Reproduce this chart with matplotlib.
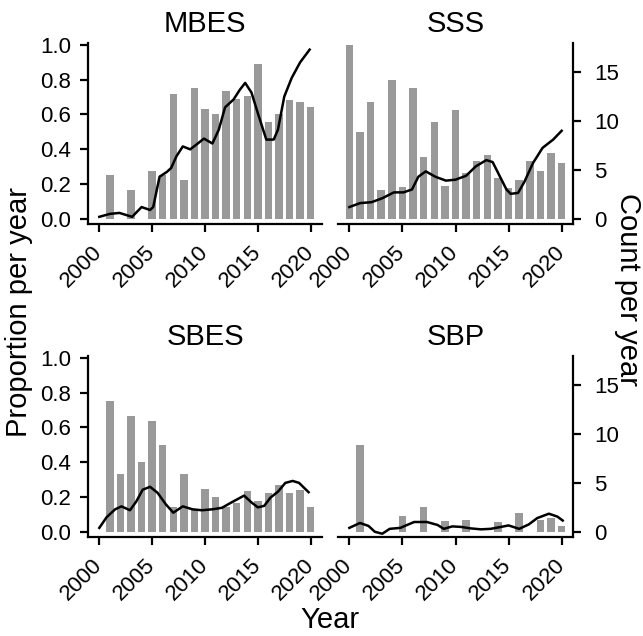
import matplotlib
matplotlib.use("Agg")
import matplotlib.pyplot as plt

plt.rcParams['font.family'] = ['Liberation Sans', 'DejaVu Sans']

# bars: proportion per year (left axis)
bar_years = list(range(2000, 2021))
mbes_prop = [0, 0.25, 0, 0.165, 0, 0.275, 0.25, 0.717, 0.223, 0.754, 0.63,
             0.602, 0.736, 0.69, 0.708, 0.888, 0.556, 0.602, 0.683, 0.67, 0.644]
sss_prop = [1.0, 0.50, 0.67, 0.165, 0.80, 0.18, 0.754, 0.357, 0.556, 0.188, 0.625,
            0.265, 0.334, 0.367, 0.236, 0.175, 0.223, 0.334, 0.275, 0.38, 0.322]
sbes_prop = [0, 0.752, 0.334, 0.668, 0.40, 0.637, 0.50, 0.143, 0.334, 0.128, 0.248,
             0.20, 0.14, 0.166, 0.236, 0.175, 0.223, 0.27, 0.225, 0.238, 0.143]
sbp_prop = [0, 0.50, 0, 0, 0, 0.089, 0, 0.141, 0, 0.061, 0,
            0.065, 0, 0, 0.057, 0, 0.109, 0, 0.07, 0.08, 0.036]

# smoothed line: count per year (right axis)
mbes_line_x = [2000.0, 2001.0, 2001.9, 2002.8, 2003.1, 2004.0, 2004.8, 2005.1, 2005.7,
               2006.4, 2006.8, 2007.3, 2007.9, 2008.6, 2009.2, 2009.9, 2010.7, 2011.3,
               2011.9, 2012.7, 2013.3, 2013.8, 2014.4, 2015.0, 2015.8, 2016.5, 2016.9,
               2017.5, 2018.2, 2019.0, 2019.9]
mbes_line_y = [0.2, 0.5, 0.6, 0.3, 0.2, 1.2, 0.9, 1.2, 4.3, 4.8, 5.2, 6.4, 7.4, 7.1, 7.6,
               8.2, 7.7, 9.1, 11.4, 12.2, 13.2, 13.9, 12.9, 10.8, 8.1, 8.1, 9.1, 12.5,
               14.4, 16.0, 17.3]
sss_line_x = [2000.0, 2001.0, 2002.1, 2003.1, 2004.2, 2005.1, 2005.9, 2006.5, 2007.2,
              2008.1, 2009.1, 2010.0, 2011.0, 2011.9, 2012.9, 2013.5, 2014.1, 2014.8,
              2015.2, 2015.9, 2016.5, 2017.3, 2018.2, 2019.2, 2020.0]
sss_line_y = [1.2, 1.6, 1.7, 2.1, 2.7, 2.7, 3.0, 4.3, 4.85, 4.3, 3.9, 4.0, 4.4, 5.35,
              6.0, 5.8, 4.5, 3.0, 2.55, 2.65, 3.8, 5.7, 7.25, 8.1, 9.0]
sbes_line_x = [2000.0, 2000.7, 2001.5, 2002.1, 2002.9, 2003.5, 2004.1, 2004.8, 2005.5,
               2006.3, 2007.0, 2007.9, 2008.8, 2009.7, 2010.7, 2011.6, 2012.5, 2013.7,
               2014.4, 2015.0, 2015.6, 2016.2, 2016.9, 2017.6, 2018.3, 2018.9, 2019.8]
sbes_line_y = [0.4, 1.5, 2.3, 2.6, 2.2, 3.1, 4.3, 4.6, 4.0, 2.8, 1.95, 2.6, 2.3, 2.2,
               2.3, 2.45, 3.0, 3.7, 3.0, 2.5, 2.65, 3.5, 4.1, 5.0, 5.2, 5.0, 4.05]
sbp_line_x = [2000.0, 2001.0, 2001.8, 2002.4, 2003.1, 2003.8, 2004.8, 2006.1, 2007.3,
              2008.3, 2008.9, 2009.7, 2010.5, 2011.4, 2012.4, 2013.3, 2014.3, 2015.0,
              2016.0, 2016.9, 2017.7, 2018.8, 2019.6, 2020.1]
sbp_line_y = [0.4, 0.9, 0.6, 0.0, -0.2, 0.3, 0.4, 1.0, 1.0, 0.7, 0.3, 0.55, 0.5, 0.35,
              0.25, 0.3, 0.5, 0.65, 0.3, 0.75, 1.4, 1.85, 1.55, 1.15]

panels = [
    ("MBES", mbes_prop, mbes_line_x, mbes_line_y),
    ("SSS", sss_prop, sss_line_x, sss_line_y),
    ("SBES", sbes_prop, sbes_line_x, sbes_line_y),
    ("SBP", sbp_prop, sbp_line_x, sbp_line_y),
]

W, H = 643, 636
fig = plt.figure(figsize=(W / 100, H / 100), dpi=100)

# axes boxes in pixels: left, top, right, bottom
boxes = [(88, 43, 322, 224), (338, 43, 573, 224),
         (88, 356, 322, 537), (338, 356, 573, 537)]

scale = 17.8  # count units per unit of proportion
ylo, yhi = -0.03, 1.01
tick_fs = 16

for i, (name, prop, lx, ly) in enumerate(panels):
    l, t, r, b = boxes[i]
    ax = fig.add_axes([l / W, 1 - b / H, (r - l) / W, (b - t) / H])
    ax.bar(bar_years, prop, width=0.7, color='#999999', zorder=1)
    ax.set_xlim(1998.93, 2021.07)
    ax.set_ylim(ylo, yhi)
    ax.set_title(name, fontsize=21, pad=8)
    for s in ['top', 'right']:
        ax.spines[s].set_visible(False)
    ax.spines['bottom'].set_linewidth(1.6)
    ax.spines['left'].set_linewidth(1.6)
    ax.set_xticks([2000, 2005, 2010, 2015, 2020])
    ax.set_xticklabels(['2000', '2005', '2010', '2015', '2020'], rotation=45,
                       ha='right', va='center', rotation_mode='anchor')
    ax.tick_params(axis='x', length=6, width=1.6, labelsize=tick_fs, pad=12)
    if i % 2 == 0:
        ax.set_yticks([0, 0.2, 0.4, 0.6, 0.8, 1.0])
        ax.set_yticklabels(['0.0', '0.2', '0.4', '0.6', '0.8', '1.0'])
        ax.tick_params(axis='y', length=6, width=1.6, labelsize=tick_fs, pad=6)
    else:
        ax.spines['left'].set_visible(False)
        ax.set_yticks([])

    ax2 = ax.twinx()
    ax2.plot(lx, ly, color='black', lw=1.8, zorder=3)
    ax2.set_ylim(ylo * scale, yhi * scale)
    for s in ['top', 'left', 'bottom']:
        ax2.spines[s].set_visible(False)
    if i % 2 == 1:
        ax2.spines['right'].set_linewidth(1.6)
        ax2.set_yticks([0, 5, 10, 15])
        ax2.tick_params(axis='y', length=6, width=1.6, labelsize=tick_fs, pad=9)
    else:
        ax2.spines['right'].set_visible(False)
        ax2.set_yticks([])

fig.text(330 / W, 1 - 620 / H, "Year", ha='center', va='center', fontsize=21)
fig.text(19 / W, 1 - 312 / H, "Proportion per year", ha='center', va='center',
         rotation=90, fontsize=21)
fig.text(628 / W, 1 - 289 / H, "Count per year", ha='center', va='center',
         rotation=-90, fontsize=21)

fig.savefig("out.png", dpi=100)
